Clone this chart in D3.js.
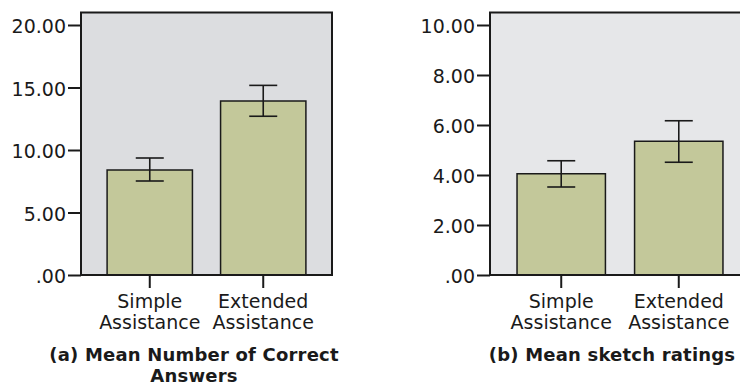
<!DOCTYPE html>
<html><head><meta charset="utf-8">
<script src="https://cdn.jsdelivr.net/npm/d3@7"></script>
<style>
body{margin:0;background:#fff;}
text{font-family:"DejaVu Sans",sans-serif;fill:#1a1a1a;}
</style></head>
<body><svg id="c" width="740" height="385"></svg>
<script>
const categories = ["Simple\nAssistance", "Extended\nAssistance"];

const meansA = [8.4, 13.92];
const errLowA = [7.52, 12.7];
const errHighA = [9.36, 15.17];
const ticksA = [0, 5, 10, 15, 20];
const yMaxA = 21;
const titleA = ["(a) Mean Number of Correct", "Answers"];

const meansB = [4.05, 5.35];
const errLowB = [3.52, 4.51];
const errHighB = [4.57, 6.17];
const ticksB = [0, 2, 4, 6, 8, 10];
const yMaxB = 10.5;
const titleB = ["(b) Mean sketch ratings"];

const svg = d3.select("#c");
const fmt = v => v === 0 ? ".00" : d3.format(".2f")(v);

function panel(cfg){
  const g = svg.append("g");
  const y = d3.scaleLinear().domain([0, cfg.yMax]).range([275, 12.5]);
  const x = d3.scaleBand().domain(categories).range([cfg.x0, cfg.x1])
    .paddingInner(0.248).paddingOuter(0.23);
  g.append("rect").attr("x", cfg.x0).attr("y", y(cfg.yMax))
    .attr("width", cfg.x1 - cfg.x0).attr("height", y(0) - y(cfg.yMax))
    .attr("fill", cfg.bg);
  g.selectAll("rect.bar").data(cfg.means).join("rect").attr("class","bar")
    .attr("x", (d,i) => x(categories[i])).attr("width", x.bandwidth())
    .attr("y", d => y(d)).attr("height", d => y(0) - y(d))
    .attr("fill", "#c3c89a").attr("stroke", "#1a1a1a").attr("stroke-width", 1.5);
  const cap = 14;
  cfg.means.forEach((m,i) => {
    const cx = x(categories[i]) + x.bandwidth()/2;
    const eg = g.append("g").attr("stroke", "#1a1a1a").attr("stroke-width", 1.6);
    eg.append("line").attr("x1", cx).attr("x2", cx).attr("y1", y(cfg.lo[i])).attr("y2", y(cfg.hi[i]));
    eg.append("line").attr("x1", cx-cap).attr("x2", cx+cap).attr("y1", y(cfg.lo[i])).attr("y2", y(cfg.lo[i]));
    eg.append("line").attr("x1", cx-cap).attr("x2", cx+cap).attr("y1", y(cfg.hi[i])).attr("y2", y(cfg.hi[i]));
  });
  g.append("rect").attr("x", cfg.x0).attr("y", y(cfg.yMax))
    .attr("width", cfg.x1 - cfg.x0).attr("height", y(0) - y(cfg.yMax))
    .attr("fill", "none").attr("stroke", "#1a1a1a").attr("stroke-width", 2);
  const ya = g.append("g").attr("transform", `translate(${cfg.x0},0)`)
    .call(d3.axisLeft(y).tickValues(cfg.ticks).tickFormat(fmt).tickSize(13).tickPadding(2));
  ya.select(".domain").remove();
  ya.selectAll(".tick line").attr("stroke", "#1a1a1a").attr("stroke-width", 2);
  ya.selectAll(".tick text").attr("font-size", 19).attr("font-family", "DejaVu Sans").attr("fill", "#1a1a1a").attr("dy", "0.4em");
  const xa = g.append("g").attr("transform", `translate(0,${y(0)})`)
    .call(d3.axisBottom(x).tickSize(13).tickFormat(""));
  xa.select(".domain").remove();
  xa.selectAll(".tick line").attr("stroke", "#1a1a1a").attr("stroke-width", 2);
  categories.forEach(c => {
    const cx = x(c) + x.bandwidth()/2;
    c.split("\n").forEach((ln, j) => {
      g.append("text").attr("x", cx).attr("y", 308 + j*20.5)
        .attr("text-anchor", "middle").attr("font-size", 19).text(ln);
    });
  });
  cfg.title.forEach((ln, j) => {
    g.append("text").attr("x", cfg.tx).attr("y", 361 + j*21)
      .attr("text-anchor", "middle").attr("font-size", 18).attr("font-weight", "bold")
      .attr("letter-spacing", 0.2).text(ln);
  });
}

panel({x0: 81, x1: 332, yMax: yMaxA, ticks: ticksA, means: meansA, lo: errLowA, hi: errHighA, bg: "#dcdde0", title: titleA, tx: 194});
panel({x0: 490, x1: 750, yMax: yMaxB, ticks: ticksB, means: meansB, lo: errLowB, hi: errHighB, bg: "#e6e7e9", title: titleB, tx: 612});
</script></body></html>
